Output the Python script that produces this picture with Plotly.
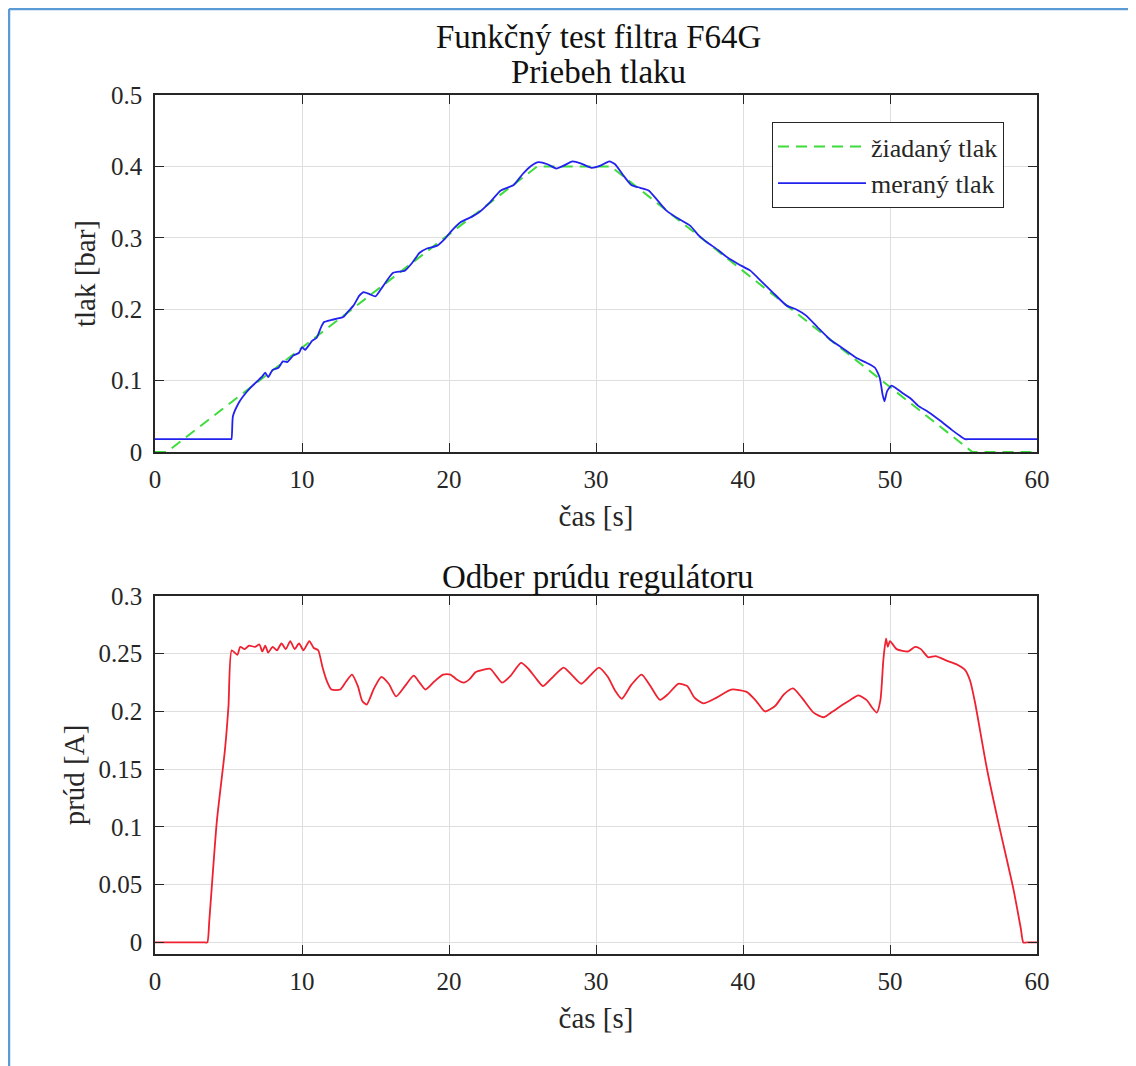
import plotly.graph_objects as go

# ---------------- data ----------------
# setpoint pressure (žiadaný tlak)
t_set = [0.0, 0.8, 26.0, 31.0, 55.6, 60.0]
p_set = [0.0, 0.0, 0.400, 0.400, 0.0, 0.0]

# measured pressure (meraný tlak)
t_meas = [0.0, 1.0, 2.0, 3.0, 4.0, 4.8, 5.1, 5.2, 5.3, 5.7, 6.0, 6.5, 7.0, 7.3, 7.5, 7.7,
          8.0, 8.4, 8.7, 9.0, 9.4, 9.8, 10.0, 10.2, 10.45, 10.7, 11.0, 11.3, 11.5, 12.0,
          12.8, 13.1, 13.5, 13.9, 14.2, 14.6, 15.0, 15.5, 16.2, 17.0, 17.5, 18.0, 18.5,
          19.2, 19.7, 20.1, 20.8, 21.5, 22.0, 22.8, 23.5, 24.4, 25.0, 25.6, 26.1, 26.7,
          27.3, 27.8, 28.4, 29.0, 29.7, 30.3, 30.9, 31.3, 31.8, 32.4, 33.0, 33.6, 34.2,
          34.8, 35.5, 36.4, 37.0, 37.6, 38.3, 38.9, 39.7, 40.5, 41.2, 42.0, 42.97, 43.6,
          44.3, 45.1, 45.9, 46.8, 47.7, 48.4, 48.98, 49.3, 49.5, 49.62, 49.8, 50.1, 50.5,
          50.9, 51.4, 51.9, 52.6, 53.4, 54.2, 54.8, 55.1, 55.4, 56.0, 57.0, 58.0, 59.0, 60.0]
p_meas = [0.018, 0.018, 0.018, 0.018, 0.018, 0.018, 0.018, 0.018, 0.050, 0.069, 0.078,
          0.090, 0.100, 0.106, 0.111, 0.105, 0.115, 0.118, 0.127, 0.126, 0.135, 0.139,
          0.147, 0.143, 0.149, 0.156, 0.160, 0.175, 0.182, 0.185, 0.189, 0.196, 0.205,
          0.219, 0.224, 0.221, 0.218, 0.232, 0.251, 0.254, 0.265, 0.279, 0.285, 0.289,
          0.298, 0.308, 0.322, 0.329, 0.335, 0.350, 0.366, 0.374, 0.389, 0.401, 0.406,
          0.403, 0.397, 0.401, 0.407, 0.404, 0.398, 0.401, 0.407, 0.403, 0.389, 0.374,
          0.370, 0.366, 0.352, 0.338, 0.328, 0.317, 0.303, 0.293, 0.283, 0.273, 0.263,
          0.254, 0.240, 0.224, 0.205, 0.200, 0.191, 0.174, 0.158, 0.145, 0.132, 0.125,
          0.118, 0.104, 0.080, 0.071, 0.085, 0.093, 0.088, 0.082, 0.075, 0.065, 0.056,
          0.044, 0.031, 0.022, 0.018, 0.018, 0.018, 0.018, 0.018, 0.018, 0.018]

# regulator current (odber prúdu)
t_cur = [0.0, 1.0, 2.0, 3.0, 3.4, 3.56, 3.7, 4.2, 4.76, 5.0, 5.22, 5.6, 5.8, 6.1, 6.4,
         6.8, 7.1, 7.3, 7.5, 7.7, 8.0, 8.3, 8.6, 8.9, 9.2, 9.5, 9.8, 10.1, 10.5, 10.8,
         11.1, 11.4, 11.7, 12.0, 12.6, 13.0, 13.4, 13.8, 14.1, 14.4, 14.9, 15.4, 15.9,
         16.4, 17.0, 17.6, 18.0, 18.4, 19.0, 19.6, 20.1, 20.5, 21.0, 21.4, 21.8, 22.3,
         22.8, 23.2, 23.6, 24.2, 24.9, 25.4, 25.9, 26.4, 27.0, 27.8, 28.4, 29.0, 29.6,
         30.2, 30.8, 31.3, 31.75, 32.4, 33.1, 33.7, 34.35, 34.9, 35.6, 36.2, 36.7, 37.3,
         38.2, 39.2, 40.25, 40.9, 41.5, 42.2, 42.8, 43.4, 44.0, 44.8, 45.5, 46.1, 46.8,
         47.3, 47.85, 48.4, 48.8, 49.1, 49.35, 49.55, 49.73, 49.85, 50.0, 50.45, 51.25,
         51.7, 52.1, 52.6, 53.1, 53.85, 54.5, 55.1, 55.44, 55.78, 56.6, 57.37, 58.4,
         58.9, 59.07, 59.3, 59.6, 60.0]
i_cur = [0.0, 0.0, 0.0, 0.0, 0.0, 0.0, 0.020, 0.104, 0.167, 0.205, 0.253, 0.249, 0.256,
         0.254, 0.257, 0.256, 0.258, 0.252, 0.257, 0.251, 0.256, 0.253, 0.259, 0.254,
         0.261, 0.254, 0.259, 0.253, 0.261, 0.255, 0.253, 0.238, 0.226, 0.219, 0.219,
         0.226, 0.232, 0.222, 0.209, 0.206, 0.220, 0.230, 0.224, 0.213, 0.222, 0.231,
         0.225, 0.219, 0.226, 0.232, 0.232, 0.228, 0.225, 0.228, 0.234, 0.236, 0.237,
         0.231, 0.225, 0.231, 0.242, 0.237, 0.229, 0.222, 0.229, 0.238, 0.231, 0.224,
         0.231, 0.238, 0.230, 0.218, 0.211, 0.223, 0.232, 0.222, 0.210, 0.215, 0.224,
         0.222, 0.212, 0.207, 0.212, 0.219, 0.217, 0.209, 0.200, 0.205, 0.215, 0.220,
         0.212, 0.199, 0.195, 0.200, 0.206, 0.210, 0.214, 0.210, 0.203, 0.199, 0.210,
         0.245, 0.263, 0.256, 0.261, 0.254, 0.252, 0.256, 0.254, 0.247, 0.248, 0.244,
         0.241, 0.236, 0.227, 0.208, 0.150, 0.104, 0.046, 0.012, 0.0, 0.0, 0.0, 0.0]

x_ticks = [0, 10, 20, 30, 40, 50, 60]
p_ticks = [0, 0.1, 0.2, 0.3, 0.4, 0.5]
p_ticktext = ["0", "0.1", "0.2", "0.3", "0.4", "0.5"]
i_ticks = [0, 0.05, 0.1, 0.15, 0.2, 0.25, 0.3]
i_ticktext = ["0", "0.05", "0.1", "0.15", "0.2", "0.25", "0.3"]

title_main = "Funkčný test filtra F64G"
title_top = "Priebeh tlaku"
title_bottom = "Odber prúdu regulátoru"

# ---------------- layout geometry (page pixels) ----------------
OFF = 8                                   # default page body margin
W, H = 1136 - OFF, 1066 - OFF
L, R, T, B = 155, 1037, 95, 954           # plot region in page px

def px_x(px):
    return (px - L) / (R - L)

def px_y(py):
    return (B - py) / (B - T)

FONT = "Liberation Serif"
TXT = "#262626"
AX = "#262626"
GRID = "#dedede"

fig = go.Figure()
fig.add_trace(go.Scatter(x=t_set, y=p_set, mode="lines", name="žiadaný tlak",
                         line=dict(color="#3ddc3d", width=2, dash="11px,7px"),
                         xaxis="x", yaxis="y"))
fig.add_trace(go.Scatter(x=t_meas, y=p_meas, mode="lines", name="meraný tlak",
                         line=dict(color="#2222ee", width=1.8, shape="spline", smoothing=0.5),
                         xaxis="x", yaxis="y"))
fig.add_trace(go.Scatter(x=t_cur, y=i_cur, mode="lines", name="prúd",
                         line=dict(color="#ee2230", width=1.8, shape="spline", smoothing=0.6),
                         showlegend=False, xaxis="x2", yaxis="y2"))

def xax(anchor, title):
    return dict(domain=[0, 1], range=[0, 60], anchor=anchor, automargin=False,
                tickvals=x_ticks, ticktext=[str(v) for v in x_ticks],
                ticks="inside", ticklen=9, tickcolor=AX, tickwidth=1,
                showline=True, linecolor=AX, linewidth=1.5, mirror="ticks",
                showgrid=True, gridcolor=GRID, gridwidth=1, zeroline=False,
                tickfont=dict(family=FONT, size=25, color=TXT),
                ticklabelstandoff=4,
                title=dict(text=title, font=dict(family=FONT, size=29, color=TXT), standoff=14))

def yax(anchor, dom, rng, tv, tt, title, standoff):
    return dict(domain=dom, range=rng, anchor=anchor, automargin=False,
                tickvals=tv, ticktext=tt,
                ticks="inside", ticklen=9, tickcolor=AX, tickwidth=1,
                showline=True, linecolor=AX, linewidth=1.5, mirror="ticks",
                showgrid=True, gridcolor=GRID, gridwidth=1, zeroline=False,
                tickfont=dict(family=FONT, size=25, color=TXT),
                ticklabelstandoff=6,
                title=dict(text=title, font=dict(family=FONT, size=29, color=TXT), standoff=standoff))

def ann(text, py, size=33):
    return dict(text=text, x=px_x(598), y=px_y(py), xref="paper", yref="paper",
                xanchor="center", yanchor="middle", showarrow=False,
                font=dict(family=FONT, size=size, color="#111111"))

fig.update_layout(
    width=W, height=H,
    margin=dict(l=L - OFF, r=W + OFF - R, t=T - OFF, b=H + OFF - B, autoexpand=False),
    paper_bgcolor="white", plot_bgcolor="white",
    font=dict(family=FONT, color=TXT),
    xaxis=xax("y", "čas [s]"),
    yaxis=yax("x", [px_y(452), 1], [0, 0.5], p_ticks, p_ticktext, "tlak [bar]", 7),
    xaxis2=xax("y2", "čas [s]"),
    yaxis2=yax("x2", [0, px_y(596)], [-0.01, 0.3], i_ticks, i_ticktext, "prúd [A]", 5),
    legend=dict(x=px_x(772), y=px_y(122), xanchor="left", yanchor="top",
                bgcolor="white", bordercolor=AX, borderwidth=1,
                font=dict(family=FONT, size=26, color=TXT),
                itemwidth=88, tracegroupgap=0),
    showlegend=True,
    annotations=[ann(title_main, 37), ann(title_top, 72), ann(title_bottom, 577)],
    shapes=[
        dict(type="line", xref="paper", yref="paper", x0=px_x(9), x1=px_x(1136 + 10),
             y0=px_y(9), y1=px_y(9), line=dict(color="#5b9bd5", width=2.5)),
        dict(type="line", xref="paper", yref="paper", x0=px_x(9), x1=px_x(9),
             y0=px_y(1066 + 10), y1=px_y(9), line=dict(color="#5b9bd5", width=2.5)),
    ],
)

fig.write_html("out.html")
